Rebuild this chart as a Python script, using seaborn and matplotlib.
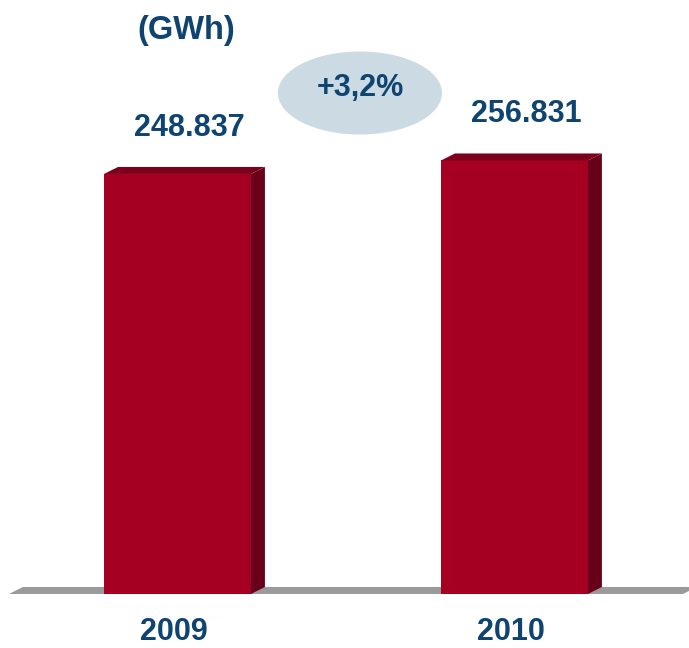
import matplotlib
matplotlib.use('Agg')
import matplotlib.pyplot as plt
import seaborn as sns
import pandas as pd
from matplotlib.patches import Polygon, Ellipse

years = ["2009", "2010"]
gwh = [248.837, 256.831]
value_labels = ["248.837", "256.831"]
unit_label = "(GWh)"
growth_label = "+3,2%"

FRONT  = "#A50021"
SIDE   = "#69001A"
TOP    = "#7C001C"
FLOOR  = "#9A9A9A"
TEXT   = "#0F4470"
BUBBLE = "#CBDAE3"

sns.set_theme(style="white")
plt.rcParams["font.family"] = ["Liberation Sans", "DejaVu Sans"]

fig = plt.figure(figsize=(6.89, 6.48), dpi=100)
ax = fig.add_axes([0, 0, 1, 1])

df = pd.DataFrame({"year": years, "gwh": gwh})
sns.barplot(data=df, x="year", y="gwh", color=FRONT, saturation=1,
            width=0.436, edgecolor="none", ax=ax, zorder=3)

ax.set_xlim(-0.5267, 1.518)
ax.set_ylim(-32.0, 351.9)
ax.axis("off")

# fake 3d depth (x in category units, y in GWh)
dx, dy = 0.0415, 4.15

# floor
xl, xr = -0.5, 1.5
ax.add_patch(Polygon([(xl, 0), (xl + dx, dy), (xr + dx, dy), (xr, 0)],
                     closed=True, fc=FLOOR, ec="none", zorder=1))

for p, lab in zip(ax.patches[:len(years)], value_labels):
    x0, w, h = p.get_x(), p.get_width(), p.get_height()
    side = [(x0 + w, 0), (x0 + w + dx, dy), (x0 + w + dx, h + dy), (x0 + w, h)]
    top = [(x0, h), (x0 + dx, h + dy), (x0 + w + dx, h + dy), (x0 + w, h)]
    ax.add_patch(Polygon(side, closed=True, fc=SIDE, ec="none", zorder=3))
    ax.add_patch(Polygon(top, closed=True, fc=TOP, ec="none", zorder=3))
    ax.text(x0 + w / 2 + 0.035, h + 27.5, lab, ha="center", va="center",
            fontsize=22, fontweight="bold", color=TEXT)

for i, yr in enumerate(years):
    ax.text(i - 0.01, -22.8, yr, ha="center", va="center",
            fontsize=22, fontweight="bold", color=TEXT)

ax.text(0.025, 334, unit_label, ha="center", va="center",
        fontsize=23.5, fontweight="bold", color=TEXT)

ax.add_patch(Ellipse((0.5415, 296.8), 0.487, 49.2, fc=BUBBLE, ec="none", zorder=2))
ax.text(0.5415, 299.5, growth_label, ha="center", va="center",
        fontsize=22, fontweight="bold", color=TEXT, zorder=4)

plt.savefig("out.png", dpi=100)
